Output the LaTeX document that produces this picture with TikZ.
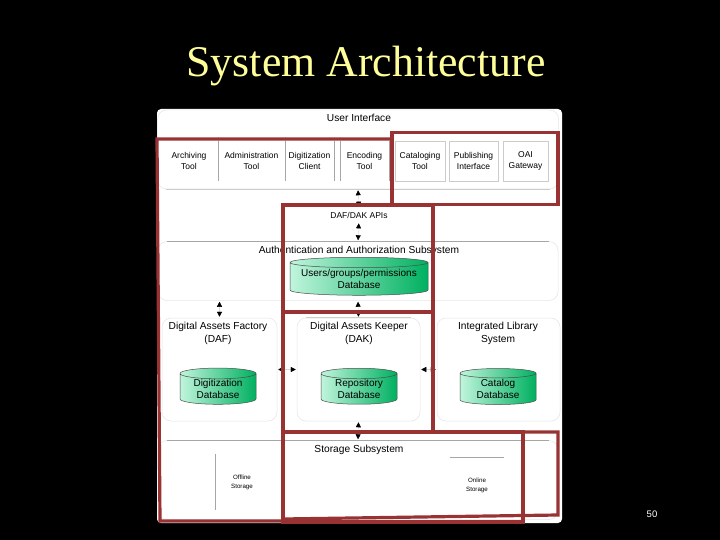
\documentclass[tikz,border=0pt]{standalone}
\usepackage{fontspec}
\setmainfont{Liberation Serif}
\setsansfont{Liberation Sans}
\usetikzlibrary{arrows.meta}
\usetikzlibrary{shapes.geometric}
\definecolor{framered}{HTML}{993333}
\definecolor{titleyellow}{HTML}{FFFF99}
\definecolor{dbgreen}{HTML}{00B060}
\definecolor{dblight}{HTML}{C0F5DC}
\tikzset{
  panel/.style={draw=black!10, line width=.5pt, rounded corners=9pt, inner sep=0pt},
  toolcell/.style={inner sep=0pt, minimum height=40pt, align=center, font=\sffamily\fontsize{8.5}{11.5}\selectfont},
  sublabel/.style={inner sep=0pt, align=center, font=\sffamily\fontsize{10.2}{13}\selectfont},
  storelabel/.style={inner sep=0pt, align=center, font=\sffamily\fontsize{6.2}{9}\selectfont},
  database/.style={cylinder, shape border rotate=90, aspect=.22, draw=black!70, line width=.5pt, left color=dblight, right color=dbgreen, inner sep=0pt, align=center, font=\sffamily\fontsize{10}{12.5}\selectfont},
  greyrule/.style={black!35, line width=.6pt},
  link/.style={{Triangle[black,length=5pt,width=5pt]}-{Triangle[black,length=5pt,width=5pt]}, black!15, line width=.4pt, shorten >=1pt, shorten <=1pt},
  redframe/.style={framered, line width=3.2pt, line join=miter},
}
\begin{document}
\begin{tikzpicture}[x=1pt,y=-1pt]
\useasboundingbox (0,0) rectangle (720,540);
\fill[black] (0,0) rectangle (720,540);
\node[inner sep=0pt, text=titleyellow, font=\fontsize{43.8}{50}\selectfont] (title) at (366,66) {System Architecture};
\node[inner sep=0pt, text=white, font=\sffamily\fontsize{9.5}{11}\selectfont] (pageno) at (652,514) {50};
\fill[white, rounded corners=4pt] (157,109) rectangle (562,523);
% subsystems
\node[panel, minimum width=401pt, minimum height=79pt] (ui) at (358,149.5) {};
\node[sublabel] (uititle) at (359,118) {User Interface};
\node[panel, minimum width=400pt, minimum height=59pt] (auth) at (358,271) {};
\node[sublabel] (authtitle) at (359,250.5) {Authentication and Authorization Subsystem};
\node[sublabel, font=\sffamily\fontsize{8.5}{11}\selectfont] (apis) at (359,215) {DAF/DAK APIs};
\node[panel, minimum width=115pt, minimum height=103pt] (daf) at (219.5,369.5) {};
\node[panel, minimum width=123pt, minimum height=103pt] (dak) at (358.5,369.5) {};
\node[panel, minimum width=123pt, minimum height=103pt] (ils) at (498.5,369.5) {};
\node[panel, minimum width=400pt, minimum height=79pt] (storage) at (358,480) {};
\draw[greyrule, shorten <=9pt, shorten >=9pt] (auth.north west) -- (auth.north east);
\draw[greyrule, shorten <=9pt, shorten >=9pt] (storage.north west) -- (storage.north east);
\draw[greyrule, black!20, shorten <=9pt, shorten >=9pt] (dak.north west) -- (dak.north east);
\draw[greyrule, black!20, shorten <=9pt, shorten >=9pt] (ui.south west) -- (ui.south east);
\node[sublabel] (daftitle) at (218,333.5) {Digital Assets Factory\\(DAF)};
\node[sublabel] (daktitle) at (359,333.5) {Digital Assets Keeper\\(DAK)};
\node[sublabel] (ilstitle) at (498,333.5) {Integrated Library\\System};
\node[sublabel] (storagetitle) at (359,450) {Storage Subsystem};
% tools
\node[toolcell, minimum width=58pt] (archiving) at (189,161) {Archiving\\Tool};
\node[toolcell, minimum width=67pt] (administration) at (251.5,161) {Administration\\Tool};
\node[toolcell, minimum width=49pt] (digitization) at (309.5,161) {Digitization\\Client};
\node[toolcell, minimum width=49pt] (encoding) at (364.5,161) {Encoding\\Tool};
\node[toolcell, minimum width=50pt, draw=black!20] (cataloging) at (420,161) {Cataloging\\Tool};
\node[toolcell, minimum width=49pt, draw=black!20] (publishing) at (473.5,161) {Publishing\\Interface};
\node[toolcell, minimum width=45pt, draw=black!20] (oai) at (525.5,161) {OAI\\Gateway};
\foreach \cell in {archiving,administration,digitization,encoding}
  \draw[greyrule] (\cell.north east) -- (\cell.south east);
\draw[greyrule] (encoding.north west) -- (encoding.south west);
% databases
\node[database, aspect=.09, minimum width=138pt, minimum height=38pt] (usersdb) at (359,279) {Users/groups/permissions\\Database};
\node[database, minimum width=76pt, minimum height=36pt] (digitizationdb) at (218,389) {Digitization\\Database};
\node[database, minimum width=76pt, minimum height=36pt] (repositorydb) at (359,389) {Repository\\Database};
\node[database, minimum width=76pt, minimum height=36pt] (catalogdb) at (498,389) {Catalog\\Database};
% storage
\node[storelabel, minimum width=54pt, minimum height=56pt, text depth=0pt] (offline) at (242,482) {Offline\\Storage};
\node[storelabel, minimum width=54pt, minimum height=56pt] (online) at (477,485) {Online\\Storage};
\draw[greyrule] (offline.north west) -- (offline.south west);
\draw[greyrule] (online.north west) -- (online.north east);
% connectors
\draw[link, shorten >=5pt] (ui.south) -- (apis.north);
\draw[link, shorten <=5pt] (apis.south) -- (auth.north);
\draw[link] (auth.south) -- (dak.north);
\draw[link] (auth.south -| daf.north) -- (daf.north);
\draw[link] (daf.east) -- (dak.west);
\draw[link] (dak.east) -- (ils.west);
\draw[link] (dak.south) -- (storage.north);
% red frames
\draw[redframe] (157,139) -- (392,139) -- (392,205) -- (283,205) -- (283,521) -- (160,521) -- cycle;
\draw[redframe] (392,132.5) -- (558,132.5) -- (558,204.5) -- (392,204.5) -- cycle;
\draw[redframe] (283,205) -- (433,205) -- (433,312) -- (283,312) -- cycle;
\draw[redframe] (283,312) -- (433,312) -- (433,432) -- (283,432) -- cycle;
\draw[redframe] (283,432) -- (523,432) -- (523,522) -- (283,522) -- cycle;
\draw[redframe] (433,432) -- (558,432) -- (558,515) -- (283,519);
\end{tikzpicture}
\end{document}
